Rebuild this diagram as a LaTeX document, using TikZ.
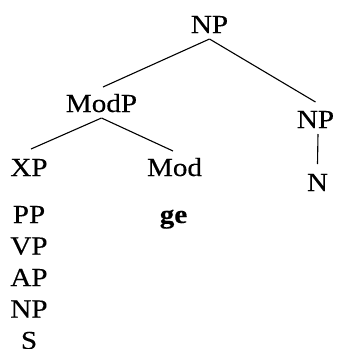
\documentclass[tikz,border=0pt]{standalone}
\usepackage{fontspec}
\setmainfont{Liberation Serif}[FakeStretch=1.12,FakeBold=0.3]
\begin{document}
\begin{tikzpicture}[x=1pt,y=-1pt,
  lbl/.style={anchor=base,inner sep=0pt,font=\fontsize{26}{31}\selectfont},
  edge/.style={line width=1.1pt}]
\useasboundingbox[fill=white] (0,0) rectangle (337,349);
\node[lbl] (np) at (209.5,33) {NP};
\node[lbl] (modp) at (101.5,112) {ModP};
\node[lbl] (npr) at (315.5,128) {NP};
\node[lbl] (xp) at (29,176) {XP};
\node[lbl] (mod) at (174.5,176) {Mod};
\node[lbl] (n) at (317.5,191) {N};
\node[lbl] (pp) at (29,223) {PP};
\node[lbl] (vp) at (29,254.5) {VP};
\node[lbl] (ap) at (29,286) {AP};
\node[lbl] (np2) at (29,317.5) {NP};
\node[lbl] (s) at (29,349) {S};
\node[lbl,font=\fontsize{26}{31}\selectfont\bfseries] (ge) at (173.5,223) {ge};
\draw[edge] ([yshift=-6pt]np.base) -- ([xshift=1.5pt,yshift=25pt]modp.base);
\draw[edge] ([yshift=-6pt]np.base) -- ([yshift=26pt]npr.base);
\draw[edge] ([yshift=-6pt]modp.base) -- ([xshift=2pt,yshift=27pt]xp.base);
\draw[edge] ([yshift=-6pt]modp.base) -- ([xshift=-1.5pt,yshift=25pt]mod.base);
\draw[edge] ([xshift=2.5pt,yshift=-6pt]npr.base) -- ([yshift=27pt]n.base);
\end{tikzpicture}
\end{document}
